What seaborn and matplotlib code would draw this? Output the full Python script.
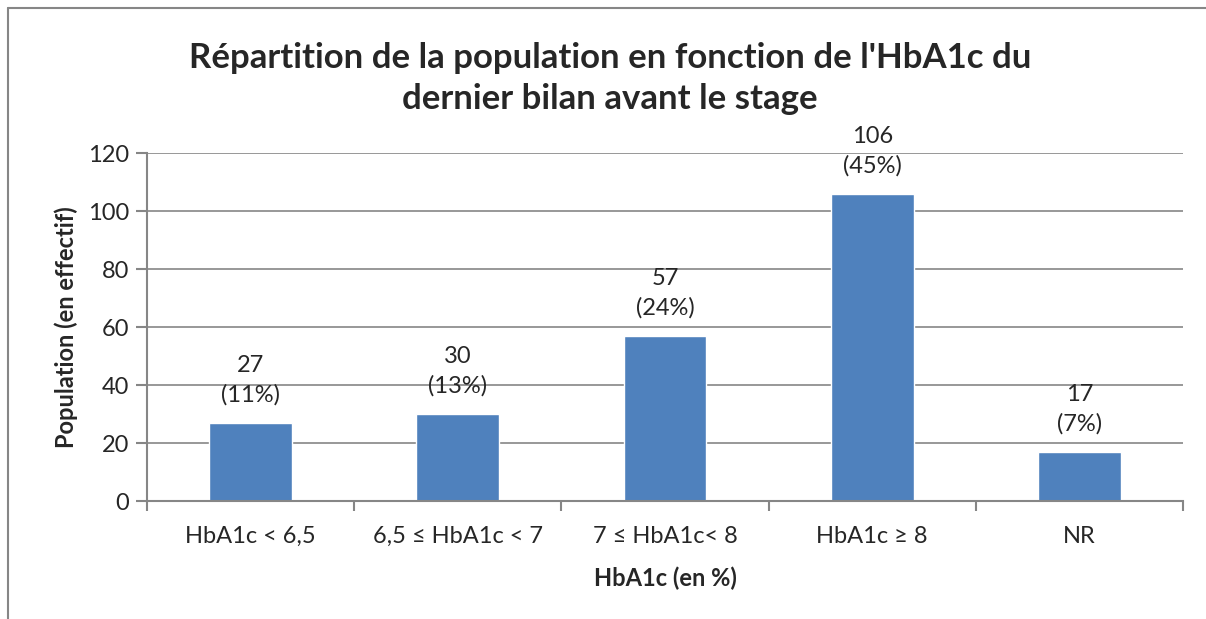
import matplotlib.pyplot as plt
import seaborn as sns
import pandas as pd
from matplotlib.lines import Line2D

categories = ['HbA1c < 6,5', '6,5 ≤ HbA1c < 7', '7 ≤ HbA1c< 8', 'HbA1c ≥ 8', 'NR']
counts = [27, 30, 57, 106, 17]
percents = ['11%', '13%', '24%', '45%', '7%']
yticks = [0, 20, 40, 60, 80, 100, 120]

sns.set_style('white')
plt.rcParams['font.family'] = ['Lato', 'DejaVu Sans']

df = pd.DataFrame({'cat': categories, 'n': counts})

fig = plt.figure(figsize=(12.06, 6.19), dpi=100)
ax = fig.add_axes([0.1219, 0.1906, 0.859, 0.5622])

sns.barplot(data=df, x='cat', y='n', color='#4F81BD', saturation=1, width=0.4, ax=ax)

ax.set_ylim(0, 120)
ax.set_xlim(-0.5, len(categories) - 0.5)
ax.set_yticks(yticks)
ax.tick_params(which='both', left=True, bottom=True)
ax.tick_params(axis='y', labelsize=17, length=8, color='#868686', width=1.5, pad=5)
ax.tick_params(axis='x', labelsize=17, length=0, pad=18)
ax.set_xticks(range(len(categories)))
ax.set_xticklabels(categories)
ax.set_xticks([i - 0.5 for i in range(len(categories) + 1)], minor=True)
ax.tick_params(axis='x', which='minor', length=7, color='#868686', width=1.5)
ax.grid(axis='y', color='#868686', linewidth=1.2)
ax.set_axisbelow(True)
for side in ['top', 'right']:
    ax.spines[side].set_visible(False)
for side in ['left', 'bottom']:
    ax.spines[side].set_color('#868686')
    ax.spines[side].set_linewidth(1.5)

for i, (n, p) in enumerate(zip(counts, percents)):
    ax.text(i, n + 6, f'{n}\n({p})', ha='center', va='bottom', fontsize=17, linespacing=1.45)

ax.set_xlabel('HbA1c (en %)', fontsize=17, fontweight='bold', labelpad=14)
ax.set_ylabel('Population (en effectif)', fontsize=17, fontweight='bold', labelpad=7)

fig.text(0.506, 0.873, "Répartition de la population en fonction de l'HbA1c du\ndernier bilan avant le stage",
         ha='center', va='center', fontsize=25, fontweight='bold', linespacing=1.32)

# chart area border (left and top only visible in reference)
fig.add_artist(Line2D([0.0065, 0.0065], [0.0, 0.987], transform=fig.transFigure, color='#868686', lw=1.5))
fig.add_artist(Line2D([0.0065, 1.0], [0.987, 0.987], transform=fig.transFigure, color='#868686', lw=1.5))

fig.savefig('out.png', dpi=100)
